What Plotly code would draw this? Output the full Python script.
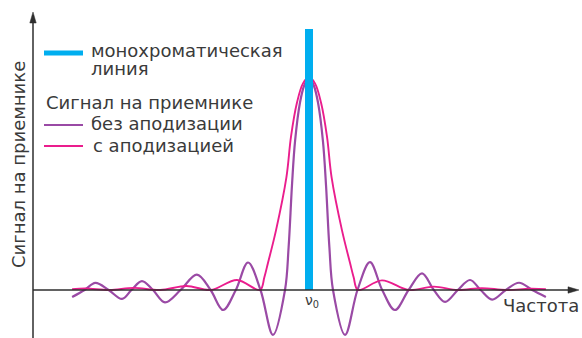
import plotly.graph_objects as go

# Frequency offset from the line centre, in units of the instrument resolution
offset_plain = [-9.87, -9.35, -8.9, -8.35, -7.79, -7.4, -6.96, -6.5, -6.0, -5.35, -4.67, -4.1,
                -3.58, -3.05, -2.54, -2.02, -1.5, -1.0, -0.85, -0.71, -0.58, -0.375, -0.2, 0.0,
                0.2, 0.375, 0.58, 0.71, 0.85, 1.0, 1.5, 2.02, 2.54, 3.05, 3.58, 4.15, 4.71,
                5.2, 5.67, 6.2, 6.71, 7.15, 7.63, 8.2, 8.75, 9.3, 9.87]
signal_plain = [-0.033, 0.0, 0.033, 0.0, -0.042, 0.0, 0.042, 0.0, -0.058, 0.0, 0.072, 0.0,
                -0.094, 0.0, 0.129, 0.0, -0.211, 0.0, 0.2, 0.49, 0.7, 0.88, 0.96, 1.0,
                0.96, 0.88, 0.7, 0.49, 0.2, 0.0, -0.211, 0.0, 0.131, 0.0, -0.094, 0.0, 0.078,
                0.0, -0.056, 0.0, 0.047, 0.0, -0.045, 0.0, 0.034, 0.0, -0.033]

offset_apod = [-9.87, -9.3, -8.3, -7.3, -6.2, -5.1, -4.1, -3.0, -2.04, -1.86, -1.71, -1.375,
               -0.94, -0.75, -0.5, -0.25, 0.0, 0.25, 0.5, 0.75, 0.94, 1.375, 1.71, 1.86,
               2.04, 3.04, 4.15, 5.2, 6.2, 7.2, 8.2, 9.2, 9.87]
signal_apod = [0.004, 0.007, 0.0, 0.01, 0.0, 0.019, 0.0, 0.047, 0.0, 0.06, 0.127, 0.28,
               0.53, 0.72, 0.88, 0.97, 1.0, 0.97, 0.88, 0.72, 0.53, 0.28, 0.127, 0.06,
               0.0, 0.045, 0.0, 0.016, 0.0, 0.009, 0.0, 0.006, 0.004]

line_offset = [0.0, 0.0]
line_signal = [0.0, 1.225]

x_tick_label = "ν<sub>0</sub>"
x_title = "Частота"
y_title = "Сигнал на приемнике"
legend_texts = ["монохроматическая", "линия", "Сигнал на приемнике",
                "без аподизации", "с аподизацией"]

W, H = 582, 338
BLUE = "#00aeef"
PURPLE = "#9a4aa5"
MAGENTA = "#ea1d8d"
INK = "#2e2e2e"
TEXT = "#3a3a3a"
FONT = "DejaVu Sans"


def px(x):
    return x / W


def py(y):
    return 1 - y / H


fig = go.Figure()
fig.add_trace(go.Scatter(x=offset_plain, y=signal_plain, mode="lines",
                         line=dict(color=PURPLE, width=2.2, shape="spline", smoothing=1.0),
                         hoverinfo="skip"))
fig.add_trace(go.Scatter(x=offset_apod, y=signal_apod, mode="lines",
                         line=dict(color=MAGENTA, width=1.9, shape="spline", smoothing=1.0),
                         hoverinfo="skip"))
fig.add_trace(go.Scatter(x=line_offset, y=line_signal, mode="lines",
                         line=dict(color=BLUE, width=8), hoverinfo="skip"))

shapes = []
# axes with arrowheads
shapes.append(dict(type="line", xref="paper", yref="paper", x0=px(33), x1=px(33),
                   y0=py(338), y1=py(20), line=dict(color=INK, width=1.5)))
shapes.append(dict(type="line", xref="paper", yref="y", x0=px(33), x1=px(572),
                   y0=0, y1=0, line=dict(color=INK, width=1.5), layer="above"))
shapes.append(dict(type="path", xref="paper", yref="paper",
                   path=f"M {px(33)} {py(12)} L {px(29.8)} {py(23)} L {px(36.2)} {py(23)} Z",
                   fillcolor=INK, line=dict(color=INK, width=0.5)))
shapes.append(dict(type="path", xref="paper", yref="paper",
                   path=f"M {px(579)} {py(290)} L {px(568)} {py(286.8)} L {px(568)} {py(293.2)} Z",
                   fillcolor=INK, line=dict(color=INK, width=0.5)))
# legend swatches
for y0, col, w in [(53, BLUE, 5), (125, PURPLE, 2), (146, MAGENTA, 2)]:
    shapes.append(dict(type="line", xref="paper", yref="paper", x0=px(44), x1=px(83),
                       y0=py(y0), y1=py(y0), line=dict(color=col, width=w)))

annotations = []


def label(text, x, y, xanchor="left", size=18, angle=0):
    annotations.append(dict(text=text, x=px(x), y=py(y), xref="paper", yref="paper",
                            xanchor=xanchor, yanchor="middle", showarrow=False,
                            textangle=angle, font=dict(family=FONT, size=size, color=TEXT)))


label(legend_texts[0], 89, 50.5)
label(legend_texts[1], 89, 68.8)
label(legend_texts[2], 44, 102.1)
label(legend_texts[3], 89, 123.1)
label(legend_texts[4], 91, 145.5)
label(x_title, 581, 305.5, xanchor="right")
label(x_tick_label, 303, 301, size=14)
label(y_title, 19, 165, xanchor="center", angle=-90)

fig.update_layout(
    width=W, height=H, autosize=False,
    margin=dict(l=0, r=0, t=0, b=0),
    paper_bgcolor="white", plot_bgcolor="white",
    showlegend=False,
    xaxis=dict(range=[-309 / 24, (W - 309) / 24], visible=False, fixedrange=True),
    yaxis=dict(range=[(290 - H) / 213, 290 / 213], visible=False, fixedrange=True),
    shapes=shapes, annotations=annotations,
)

fig.write_html("out.html")
